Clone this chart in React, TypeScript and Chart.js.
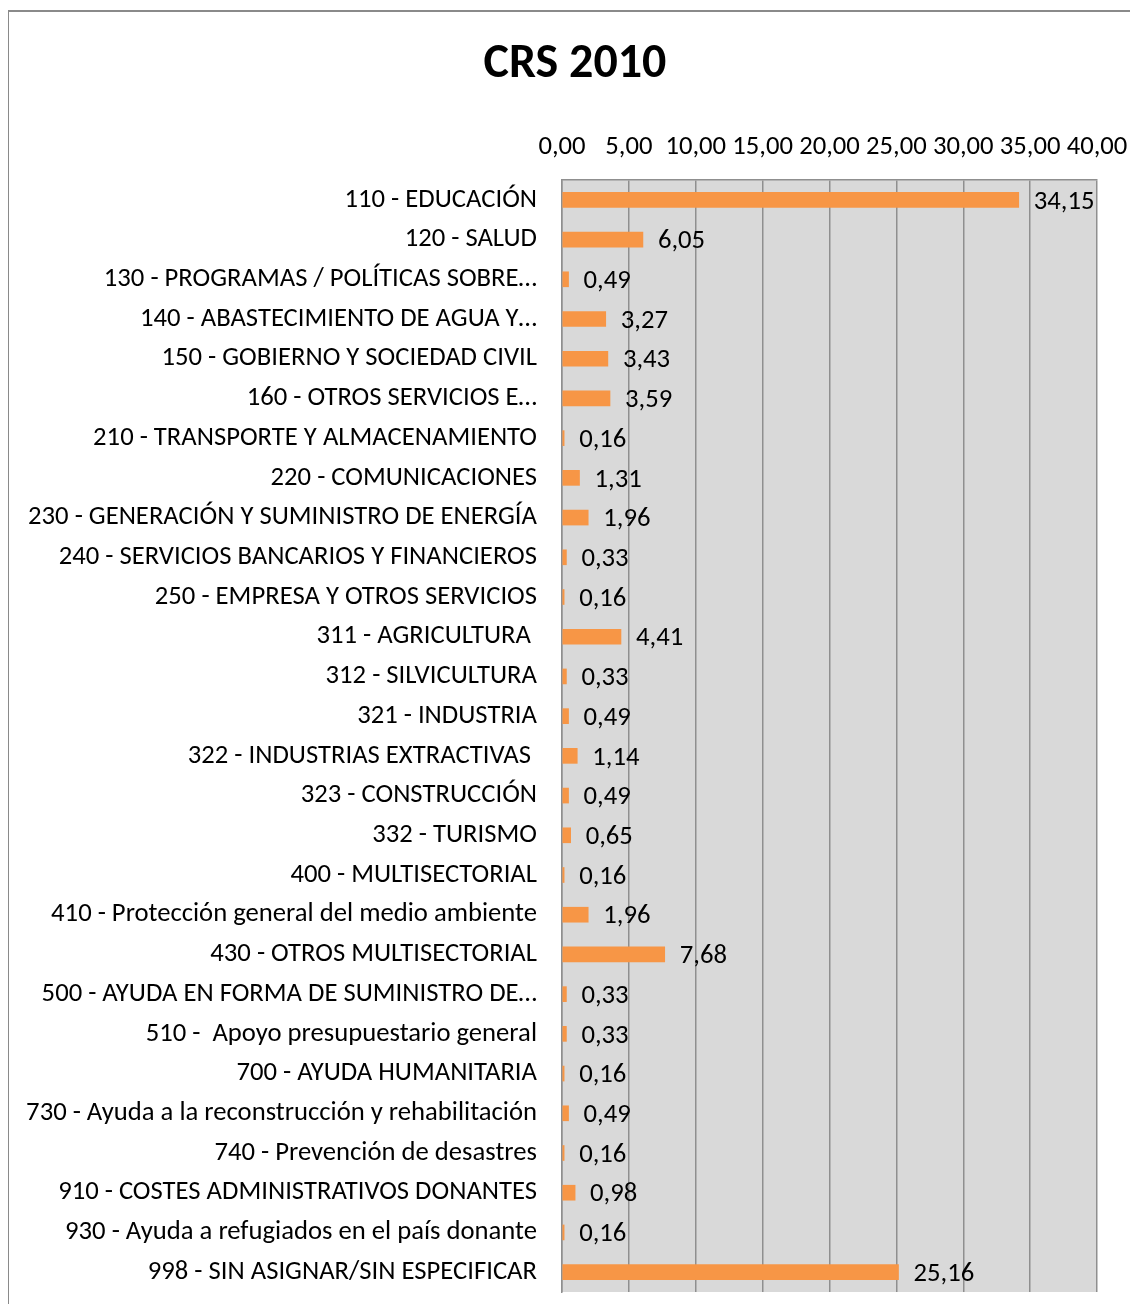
import React, { useEffect, useRef } from "react";
import { Chart, registerables } from "chart.js";

Chart.register(...registerables);

const TITLE = "CRS 2010";

const categories: string[] = [
  "110 - EDUCACIÓN",
  "120 - SALUD",
  "130 - PROGRAMAS / POLÍTICAS SOBRE…",
  "140 - ABASTECIMIENTO DE AGUA Y…",
  "150 - GOBIERNO Y SOCIEDAD CIVIL",
  "160 - OTROS SERVICIOS E…",
  "210 - TRANSPORTE Y ALMACENAMIENTO",
  "220 - COMUNICACIONES",
  "230 - GENERACIÓN Y SUMINISTRO DE ENERGÍA",
  "240 - SERVICIOS BANCARIOS Y FINANCIEROS",
  "250 - EMPRESA Y OTROS SERVICIOS",
  "311 - AGRICULTURA ",
  "312 - SILVICULTURA",
  "321 - INDUSTRIA",
  "322 - INDUSTRIAS EXTRACTIVAS ",
  "323 - CONSTRUCCIÓN",
  "332 - TURISMO",
  "400 - MULTISECTORIAL",
  "410 - Protección general del medio ambiente",
  "430 - OTROS MULTISECTORIAL",
  "500 - AYUDA EN FORMA DE SUMINISTRO DE…",
  "510 -  Apoyo presupuestario general",
  "700 - AYUDA HUMANITARIA",
  "730 - Ayuda a la reconstrucción y rehabilitación",
  "740 - Prevención de desastres",
  "910 - COSTES ADMINISTRATIVOS DONANTES",
  "930 - Ayuda a refugiados en el país donante",
  "998 - SIN ASIGNAR/SIN ESPECIFICAR",
];

const values: number[] = [
  34.15, 6.05, 0.49, 3.27, 3.43, 3.59, 0.16, 1.31, 1.96, 0.33, 0.16, 4.41,
  0.33, 0.49, 1.14, 0.49, 0.65, 0.16, 1.96, 7.68, 0.33, 0.33, 0.16, 0.49,
  0.16, 0.98, 0.16, 25.16,
];

const X_MIN = 0;
const X_MAX = 40;
const X_STEP = 5;

const FONT = "Carlito, Calibri, Lato, sans-serif";
const FS = 26.67;
const fmt = (v: number) => v.toFixed(2).replace(".", ",");

const bgPlugin = {
  id: "bgPlugin",
  beforeDraw(chart: any) {
    const { ctx, chartArea } = chart;
    ctx.save();
    ctx.fillStyle = "#ffffff";
    ctx.fillRect(0, 0, chart.width, chart.height);
    ctx.strokeStyle = "#8a8a8a";
    ctx.lineWidth = 2;
    ctx.beginPath();
    ctx.moveTo(0, chart.height);
    ctx.lineTo(0, 3);
    ctx.lineTo(chart.width, 3);
    ctx.stroke();
    ctx.fillStyle = "#d9d9d9";
    ctx.fillRect(
      chartArea.left,
      chartArea.top,
      chartArea.right - chartArea.left,
      chartArea.bottom - chartArea.top
    );
    ctx.fillStyle = "#000000";
    ctx.font = `bold 48px ${FONT}`;
    ctx.textAlign = "center";
    ctx.textBaseline = "middle";
    ctx.fillText(TITLE, 567, 57);
    ctx.restore();
  },
};

const labelPlugin = {
  id: "labelPlugin",
  afterDatasetsDraw(chart: any) {
    const { ctx } = chart;
    const meta = chart.getDatasetMeta(0);
    ctx.save();
    ctx.font = `${FS}px ${FONT}`;
    ctx.fillStyle = "#000000";
    ctx.textAlign = "left";
    ctx.textBaseline = "middle";
    meta.data.forEach((el: any, i: number) => {
      ctx.fillText(fmt(values[i]), el.x + 15, el.y + 2);
    });
    ctx.restore();
  },
};

export default function App() {
  const ref = useRef<HTMLCanvasElement | null>(null);
  useEffect(() => {
    if (!ref.current) return;
    const chart = new Chart(ref.current, {
      type: "bar",
      data: {
        labels: categories,
        datasets: [
          {
            data: values,
            backgroundColor: "#f79646",
            borderWidth: 0,
            barThickness: 15,
          },
        ],
      },
      options: {
        indexAxis: "y",
        responsive: false,
        animation: false,
        layout: { padding: { left: 0, right: 33, top: 88, bottom: 12 } },
        plugins: {
          legend: { display: false },
          tooltip: { enabled: false },
          title: { display: false },
        },
        scales: {
          x: {
            position: "top",
            min: X_MIN,
            max: X_MAX,
            ticks: {
              stepSize: X_STEP,
              color: "#000000",
              font: { family: FONT, size: FS },
              padding: 17,
              maxRotation: 0,
              autoSkip: false,
              callback: (v: any) => fmt(Number(v)),
            },
            grid: { color: "#8f8f8f", lineWidth: 1.5, drawTicks: false },
            border: { display: true, color: "#8f8f8f", width: 1.5 },
            afterFit: (s: any) => {
              s.height = 84;
              s.paddingLeft = 0;
              s.paddingRight = 0;
            },
          },
          y: {
            ticks: {
              color: "#000000",
              font: { family: FONT, size: FS },
              padding: 25,
              autoSkip: false,
            },
            grid: { display: false, drawTicks: false },
            border: { display: true, color: "#8f8f8f", width: 1.5 },
            afterFit: (s: any) => {
              s.width = 554;
              s.paddingTop = 0;
              s.paddingBottom = 0;
            },
          },
        },
      },
      plugins: [bgPlugin, labelPlugin],
    });
    return () => chart.destroy();
  }, []);
  return (
    <canvas
      ref={ref}
      width={1122}
      height={1296}
      style={{
        display: "block",
        position: "fixed",
        left: 8,
        top: 8,
        width: 1122,
        height: 1296,
      }}
    />
  );
}
